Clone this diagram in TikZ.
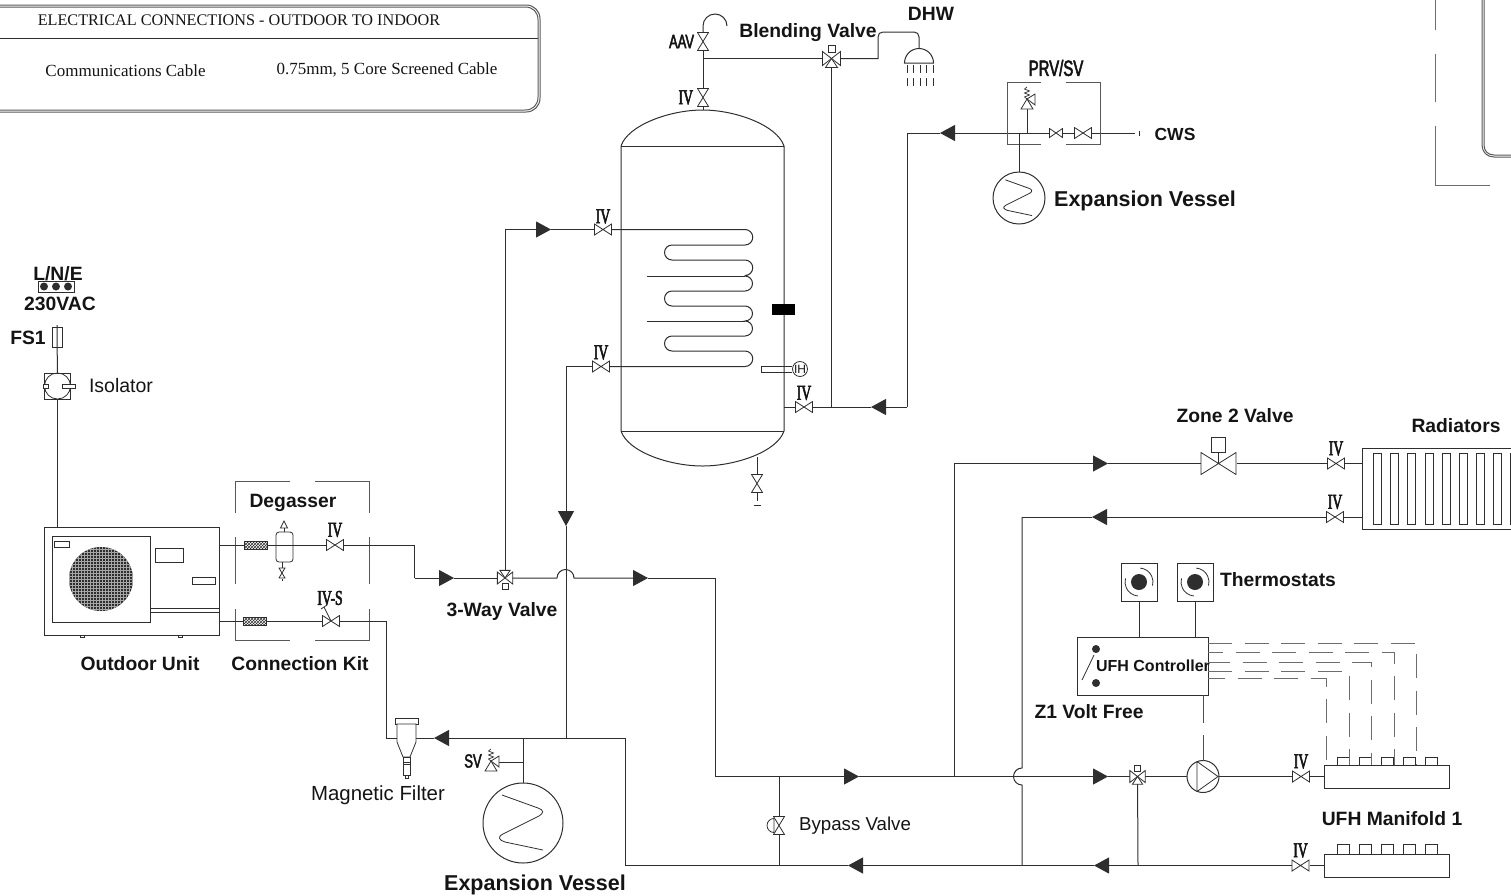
\documentclass[tikz,border=0pt]{standalone}
\usepackage{fontspec}
\setmainfont{Liberation Sans}
\newfontfamily\serifface{Liberation Serif}
\newfontfamily\ivface[FakeStretch=.65,FakeBold=2.5]{Liberation Serif}
\newfontfamily\tagface[FakeStretch=.68,FakeBold=2.5]{Liberation Sans}
\usetikzlibrary{arrows.meta,positioning,patterns}
\definecolor{linegrey}{HTML}{2E2E2E}
\definecolor{textgrey}{HTML}{141414}
\newcommand{\hbowtie}{\draw[valve line] ([shift={(.5pt,-.5pt)}]path picture bounding box.north west) -- ([shift={(-.5pt,.5pt)}]path picture bounding box.south east) -- ([shift={(-.5pt,-.5pt)}]path picture bounding box.north east) -- ([shift={(.5pt,.5pt)}]path picture bounding box.south west) -- cycle;}
\newcommand{\vbowtie}{\draw[valve line] ([shift={(.5pt,-.5pt)}]path picture bounding box.north west) -- ([shift={(-.5pt,.5pt)}]path picture bounding box.south east) -- ([shift={(.5pt,.5pt)}]path picture bounding box.south west) -- ([shift={(-.5pt,-.5pt)}]path picture bounding box.north east) -- cycle;}
\newcommand{\statdial}{\fill[linegrey] (path picture bounding box.center) circle (8pt); \draw[valve line] ([shift={(85:14pt)}]path picture bounding box.center) arc (85:-15:14pt); \draw[valve line] ([shift={(265:14pt)}]path picture bounding box.center) arc (265:165:14pt);}
\begin{document}
\begin{tikzpicture}[x=1pt, y=-1pt, line width=1pt, color=linegrey, text=textgrey,
  pipe/.style={draw=linegrey, line width=1pt},
  valve line/.style={draw=linegrey, line width=.8pt},
  flow/.style={-{Triangle[length=15pt,width=16pt]}},
  wire/.style={draw=linegrey!70, line width=1pt, dash pattern=on 24pt off 12.5pt},
  frame/.style={draw=linegrey!80, line width=1pt},
  box/.style={draw=linegrey, line width=1pt, inner sep=0pt, outer sep=0pt},
  iv valve/.style={inner sep=0pt, outer sep=0pt, minimum width=18pt, minimum height=12pt, path picture={\hbowtie}},
  small valve/.style={inner sep=0pt, outer sep=0pt, minimum width=14pt, minimum height=10pt, path picture={\hbowtie}},
  up valve/.style={inner sep=0pt, outer sep=0pt, minimum width=12pt, minimum height=19pt, path picture={\vbowtie}},
  zone valve/.style={inner sep=0pt, outer sep=0pt, minimum width=36pt, minimum height=23pt, path picture={\hbowtie}},
  vessel/.style={circle, draw=linegrey, line width=1pt, inner sep=0pt, outer sep=0pt, minimum size=2*#1},
  pump node/.style={circle, draw=linegrey, line width=1pt, inner sep=0pt, outer sep=0pt, minimum size=32pt,
    path picture={\draw[valve line, shift={(path picture bounding box.center)}] (-6,-15) -- (15,0) -- (-6,15) -- cycle;}},
  stat node/.style={box, minimum width=36pt, minimum height=38pt, path picture={\statdial}},
  strainer node/.style={box, line width=.8pt, minimum width=23pt, minimum height=8pt, pattern=crosshatch, pattern color=linegrey},
  label bold/.style={font=\fontsize{19.3}{22}\selectfont\bfseries, inner sep=0pt, text height=.72em, text depth=0pt, yshift=-4pt},
  label big/.style={font=\fontsize{21.5}{24}\selectfont\bfseries, inner sep=0pt, text height=.72em, text depth=0pt, yshift=-4pt},
  label small/.style={font=\fontsize{17.5}{20}\selectfont\bfseries, inner sep=0pt, text height=.72em, text depth=0pt, yshift=-3pt},
  label ctl/.style={font=\fontsize{16}{20}\selectfont\bfseries, inner sep=0pt, text height=.72em, text depth=0pt, yshift=-3pt},
  label plain/.style={font=\fontsize{19.5}{22}\selectfont, inner sep=0pt, text height=.72em, text depth=0pt, yshift=-4pt},
  table head/.style={font=\fontsize{16.2}{18}\selectfont\serifface, inner sep=0pt},
  table text/.style={font=\fontsize{17}{18}\selectfont\serifface, inner sep=0pt},
  iv tag/.style={font=\fontsize{21}{22}\selectfont\ivface, inner sep=0pt, outer sep=0pt},
  sans tag/.style={font=\fontsize{19}{20}\selectfont\tagface, inner sep=0pt, outer sep=0pt},
  pics/zigzag/.style={code={
    \draw[valve line] (-21,-28) -- (15,-15) .. controls (21,-13) and (21,-10) .. (16,-7) -- (-20,11) .. controls (-26,14) and (-24,17) .. (-18,19) -- (20,27);
  }},
  pics/threeway/.style={code={
    \draw[valve line, fill=white] (0,0) -- (-9,-7) -- (-9,7) -- cycle;
    \draw[valve line, fill=white] (0,0) -- (9,-7) -- (9,7) -- cycle;
    \draw[valve line, fill=white] (0,0) -- (-6,9) -- (6,9) -- cycle;
    \draw[valve line, fill=white] (-3.5,-13) rectangle (3.5,-6);
  }},
  pics/relief/.style={code={
    \draw[valve line, fill=white] (0,0) -- (-6,10) -- (6,10) -- cycle;
    \draw[valve line, fill=white] (0,0) -- (8,-5) -- (8,6) -- cycle;
    \draw[valve line, line width=.7pt] (0,0) -- (-2.5,-2) -- (2.5,-4) -- (-2.5,-6) -- (2.5,-8) -- (-2.5,-10) -- (0,-12);
  }}]
\useasboundingbox (0,0) rectangle (1511,895);
\clip (0,0) rectangle (1511,895);

\draw[frame] (-20,5) -- (526,5) .. controls (534,5) and (540,11) .. (540,19) -- (540,98) .. controls (540,106) and (534,112) .. (526,112) -- (-20,112);
\draw[frame] (-20,7) -- (525,7) .. controls (533,7) and (538,12) .. (538,20) -- (538,97) .. controls (538,105) and (533,110) .. (525,110) -- (-20,110);
\draw[valve line] (-20,38) -- (538,38);
\node[table head] (tablehead) at (239,20) {ELECTRICAL CONNECTIONS - OUTDOOR TO INDOOR};
\node[table text] (tablecable) at (125.5,71) {Communications Cable};
\node[table text] (tablespec) at (387,70) {0.75mm, 5 Core Screened Cable};

\draw[frame, draw=linegrey!70] (1435,-10) -- (1435,30);
\draw[frame, draw=linegrey!70] (1435,54) -- (1435,102);
\draw[frame, draw=linegrey!70] (1435,126) -- (1435,185) -- (1490,185);
\draw[frame] (1482,-10) -- (1482,145) .. controls (1482,152) and (1487,157) .. (1494,157) -- (1520,157);
\draw[frame] (1484,-10) -- (1484,145) .. controls (1484,151) and (1488,155) .. (1494,155) -- (1520,155);

\node[label bold] (mainsname) at (58,273) {L/N/E};
\node[box, minimum width=36pt, minimum height=11pt] (mainsbox) at (56.5,286.5) {};
\fill[linegrey] (44,286.5) circle (4pt) (56,286.5) circle (4pt) (68,286.5) circle (4pt);
\node[label bold] (mainsvolt) at (60,303) {230VAC};
\node[label bold] (fusename) at (28,337) {FS1};
\node[box, line width=.7pt, minimum width=10pt, minimum height=20pt] (fuse) at (57,337) {};
\coordinate (fusetop) at (57,325);
\node[box, line width=.8pt, minimum width=26pt, minimum height=26pt] (isolator) at (57.5,386) {};
\draw[valve line] (57.5,386) circle (13pt);
\draw[valve line, fill=white] (43,384) rectangle (48,388);
\draw[valve line, fill=white] (62,384) rectangle (75,388);
\node[label plain] (isolatorname) at (121,385) {Isolator};
\coordinate (mainsfeed) at (57.5,527);
\draw[pipe] (fusetop) -- (isolator);
\draw[pipe] (isolator) -- (mainsfeed);

\node[box, minimum width=175pt, minimum height=108pt] (outdoor) at (131.5,581) {};
\node[box, line width=.8pt, minimum width=98pt, minimum height=86pt] (fanpanel) at (101,579) {};
\node[box, line width=.7pt, minimum width=15pt, minimum height=6pt] (badge) at (61.5,544) {};
\node[box, line width=.8pt, minimum width=28pt, minimum height=14pt] (panela) at (169,555) {};
\node[box, line width=.8pt, minimum width=23pt, minimum height=7pt] (panelb) at (203.5,580.5) {};
\begin{scope}
\clip (101,579) circle (32pt);
\fill[linegrey] (60,540) rectangle (140,620);
\draw[step=3pt, gray!70, line width=.3pt] (60,540) grid (140,620);
\end{scope}
\draw[valve line] (150,608) -- (219,608);
\draw[valve line] (150,612) -- (219,612);
\draw[valve line] (80,635) rectangle (84,637) (178,635) rectangle (182,637);
\node[label bold] (outdoorname) at (140,663) {Outdoor Unit};

\draw[frame] (290,481) -- (235.5,481) -- (235.5,512.5);
\draw[frame] (235.5,537) -- (235.5,584);
\draw[frame] (235.5,609) -- (235.5,640) -- (290,640);
\draw[frame] (315,640) -- (369.5,640) -- (369.5,609);
\draw[frame] (369.5,584) -- (369.5,537);
\draw[frame] (369.5,512.5) -- (369.5,481) -- (315,481);
\node[label bold] (degassername) at (293,500) {Degasser};
\node[label bold] (kitname) at (300,663) {Connection Kit};

\coordinate (outflow) at (219,545);
\coordinate (outreturn) at (219,621);
\node[strainer node] (strainerflow) at (256,545) {};
\node[strainer node] (strainerreturn) at (254.5,621) {};
\node[box, line width=.8pt, rounded corners=3pt, minimum width=17pt, minimum height=30pt] (degasser) at (284.5,547) {};
\node[iv valve] (ivflow) at (335,545) {};
\node[iv tag, above=2pt of ivflow] (ivflowtag) {IV};
\node[iv valve] (ivreturn) at (331,621) {};
\node[iv tag] (ivreturntag) at (330,598) {IV-S};
\coordinate (stemtop) at (324,607);
\draw[valve line] (ivreturn.center) -- (stemtop);
\draw[valve line] (321,609) -- (327,605);
\draw[pipe] (outflow) -- (strainerflow);
\draw[pipe] (strainerflow) -- (ivflow);
\draw[pipe] (outreturn) -- (strainerreturn);
\draw[pipe] (strainerreturn) -- (ivreturn);
\draw[valve line, fill=white] (284,521) -- (280.5,528) -- (287.5,528) -- cycle;
\draw[valve line] (284,528) -- (284,532);
\node[inner sep=0pt, outer sep=0pt, minimum width=7pt, minimum height=11pt, path picture={\vbowtie}] (degasdrain) at (282,573) {};
\draw[valve line] (282,562) -- (degasdrain);
\draw[valve line] (degasdrain) -- (282,581);

\coordinate (supplybend) at (414.5,578);
\coordinate (tipsupply) at (454,578);
\coordinate (threewayvalve) at (505,578);
\coordinate (coilbranch) at (505,229.5);
\coordinate (tipcoil) at (551,229.5);
\node[iv valve] (ivcoiltop) at (603,229.5) {};
\node[iv tag, above=0pt of ivcoiltop] (ivcoiltoptag) {IV};
\node[iv valve] (ivcoilbot) at (601,366.5) {};
\node[iv tag, above=1pt of ivcoilbot] (ivcoilbottag) {IV};
\coordinate (returnbranch) at (566,366.5);
\coordinate (tipreturn) at (566,526);
\coordinate (returntee) at (566,738);
\coordinate (humpstart) at (557,578);
\coordinate (tipheat) at (648,578);
\coordinate (heatbend) at (715,578);
\coordinate (heatcorner) at (715,776.5);
\coordinate (bypasstop) at (779,776.5);
\coordinate (tipheatb) at (859,776.5);
\coordinate (zonebranch) at (954,776.5);
\coordinate (humpend) at (1014,776.5);
\coordinate (tipufh) at (1108,776.5);
\coordinate (mixvalve) at (1137.5,776.5);
\coordinate (zonecorner) at (954,463.5);
\coordinate (tipzone) at (1108,463.5);
\draw[pipe] (ivflow) -| (supplybend);
\draw[pipe, flow] (supplybend) -- (tipsupply);
\draw[pipe] (tipsupply) -- (threewayvalve);
\draw[pipe] (threewayvalve) -- (coilbranch);
\draw[pipe, flow] (coilbranch) -- (tipcoil);
\draw[pipe] (tipcoil) -- (ivcoiltop);
\draw[pipe, flow] (threewayvalve) -- (humpstart) arc (180:0:8.5pt) -- (tipheat);
\draw[pipe] (tipheat) -- (heatbend);
\draw[pipe] (heatbend) -- (heatcorner);
\draw[pipe] (heatcorner) -- (bypasstop);
\draw[pipe, flow] (bypasstop) -- (tipheatb);
\draw[pipe] (tipheatb) -- (humpend);
\draw[pipe, flow] (humpend) -- (tipufh);
\draw[pipe] (tipufh) -- (mixvalve);
\draw[pipe] (zonebranch) -- (zonecorner);
\draw[pipe, flow] (zonecorner) -- (tipzone);
\draw[pipe] (ivcoilbot) -- (returnbranch);
\draw[pipe, flow] (returnbranch) -- (tipreturn);
\draw[pipe] (tipreturn) -- (returntee);
\pic at (threewayvalve) [rotate=180, scale=.85] {threeway};
\node[label bold] (threewayname) at (502,609) {3-Way Valve};

\coordinate (filterin) at (386,738);
\coordinate (tipfilter) at (434,738);
\coordinate (vesseltee) at (523,738);
\coordinate (returncorner) at (625,738);
\coordinate (returnlow) at (625,865.5);
\coordinate (tipreturnb) at (848,865.5);
\coordinate (bypasslow) at (779,865.5);
\coordinate (zonereturnlow) at (1022,865.5);
\coordinate (tipreturnc) at (1094,865.5);
\coordinate (mixlow) at (1138,865.5);
\coordinate (svin) at (499,762);
\coordinate (svtee) at (523,762);
\draw[pipe] (ivreturn) -| (filterin);
\draw[pipe] (filterin) -- (tipfilter);
\draw[pipe, flow] (vesseltee) -- (tipfilter);
\draw[pipe] (returntee) -- (vesseltee);
\draw[pipe] (returntee) -- (returncorner) -- (returnlow);
\draw[pipe] (returnlow) -- (bypasslow);
\draw[pipe] (bypasslow) -- (tipreturnb);
\draw[pipe, flow] (zonereturnlow) -- (tipreturnb);
\draw[pipe, flow] (mixlow) -- (tipreturnc);
\draw[pipe] (tipreturnc) -- (zonereturnlow);
\draw[pipe] (mixvalve) -- (mixlow);
\draw[valve line, fill=white] (395,718) rectangle (418,724);
\draw[valve line, fill=white] (397,724) -- (416,724) -- (416,742) -- (410,757) -- (403,757) -- (397,742) -- cycle;
\draw[valve line, fill=white] (403,757) rectangle (410,775);
\draw[valve line] (403,762) -- (410,762) (403,764) -- (410,764) (405,775) -- (405,778) -- (408,778) -- (408,775);
\node[label plain, font=\fontsize{20.4}{24}\selectfont] (filtername) at (378,793) {Magnetic Filter};

\node[vessel=40] (vesselmain) at (523,823) {};
\pic at (vesselmain) {zigzag};
\draw[pipe] (vesseltee) -- (vesselmain);
\draw[pipe] (svin) -- (svtee);
\pic at (491,761) {relief};
\node[sans tag] (svtag) at (473,761) {SV};
\node[label big] (vesselmainname) at (535,883) {Expansion Vessel};

\node[up valve] (bypass) at (779,825.5) {};
\draw[pipe] (bypasstop) -- (bypass);
\draw[pipe] (bypass) -- (bypasslow);
\draw[valve line] (774,818.5) arc (90:270:7pt) -- cycle;
\node[label plain, font=\fontsize{18.7}{22}\selectfont] (bypassname) at (855,823) {Bypass Valve};

\draw[pipe] (621,431) -- (621,146) .. controls (628,125) and (670,110) .. (702.5,110) .. controls (735,110) and (777,125) .. (784,146) -- (784,431) .. controls (777,452) and (735,466) .. (702.5,466) .. controls (670,466) and (628,452) .. (621,431) -- cycle;
\draw[pipe] (621,146) -- (784,146);
\draw[pipe] (621,431.5) -- (784,431.5);

\coordinate (coilin) at (745,229.5);
\coordinate (coilout) at (745,366.5);
\draw[pipe] (ivcoiltop) -- (coilin) arc (90:-90:7.75pt) -- (672,245) arc (90:270:7.5pt) -- (745,260) arc (90:-90:7.75pt) -- (745,276) arc (90:-90:7.5pt) -- (672,291) arc (90:270:7.5pt) -- (745,306) arc (90:-90:7.5pt) -- (745,321) arc (90:-90:7.5pt) -- (672,336) arc (90:270:7.5pt) -- (745,351) arc (90:-90:7.75pt) -- (coilout) -- (ivcoilbot);
\draw[pipe] (647,276) -- (745,276);
\draw[pipe] (647,321) -- (745,321);

\node[fill=black, inner sep=0pt, minimum width=23pt, minimum height=11pt] (tanksensor) at (783.5,309.5) {};
\node[circle, draw=linegrey, line width=.8pt, inner sep=0pt, minimum size=15pt, font=\fontsize{12}{12}\selectfont] (immersion) at (800,369) {IH};
\draw[valve line] ([yshift=3pt]immersion.west) -- (761.5,366) -- (761.5,372) -- ([yshift=-3pt]immersion.west);

\coordinate (draintap) at (757,457);
\node[up valve] (drainvalve) at (757,483.5) {};
\coordinate (drainend) at (757,501);
\draw[pipe] (draintap) -- (drainvalve);
\draw[pipe] (drainvalve) -- (drainend);
\draw[line width=1.5pt, draw=linegrey] (753.5,505.5) -- (760.5,505.5);

\coordinate (tanktap) at (784,407);
\node[iv valve] (ivcoldin) at (804,407) {};
\node[iv tag, above=1pt of ivcoldin] (ivcoldintag) {IV};
\coordinate (coldtee) at (831.5,407);
\coordinate (tipcoldb) at (871,407);
\coordinate (coldcorner) at (907,407);
\coordinate (coldtop) at (907,133);
\coordinate (tipcold) at (940,133);
\coordinate (expteesmall) at (1019,133);
\coordinate (prvtee) at (1027,133);
\coordinate (prvin) at (1027,108);
\node[small valve] (prvvalve) at (1056,133) {};
\node[iv valve] (prvstop) at (1083,133) {};
\coordinate (cwsend) at (1135,133);
\draw[pipe] (tanktap) -- (ivcoldin);
\draw[pipe] (ivcoldin) -- (coldtee);
\draw[pipe] (coldtee) -- (tipcoldb);
\draw[pipe, flow] (coldcorner) -- (tipcoldb);
\draw[pipe] (coldcorner) -- (coldtop) -- (tipcold);
\draw[pipe, flow] (expteesmall) -- (tipcold);
\draw[pipe] (expteesmall) -- (prvtee);
\draw[pipe] (prvtee) -- (prvvalve);
\draw[pipe] (prvvalve) -- (prvstop);
\draw[pipe] (prvstop) -- (cwsend);
\draw[line width=1.5pt, draw=linegrey] (1139.5,130.5) -- (1139.5,135.5);
\draw[pipe] (prvtee) -- (prvin);
\pic at (1027,99) {relief};
\draw[frame] (1041,82) -- (1007,82) -- (1007,144) -- (1041,144);
\draw[frame] (1066,144) -- (1100,144) -- (1100,82) -- (1066,82);
\node[sans tag, font=\fontsize{22}{22}\selectfont\tagface] (prvtag) at (1056,68) {PRV/SV};
\node[label small] (cwsname) at (1175,134) {CWS};
\node[vessel=26] (vesselcws) at (1019,198) {};
\pic at (vesselcws) [scale=.65] {zigzag};
\draw[pipe] (expteesmall) -- (vesselcws);
\node[label big] (vesselcwsname) at (1145,199) {Expansion Vessel};

\coordinate (blendvalve) at (831.5,58.5);
\coordinate (blendtee) at (703,58.5);
\coordinate (showerin) at (919,48);
\node[up valve] (ivtop) at (703,97.5) {};
\node[iv tag, left=4pt of ivtop] (ivtoptag) {IV};
\node[up valve] (aav) at (703,41.5) {};
\node[sans tag, left=3pt of aav] (aavtag) {AAV};
\coordinate (tanktop) at (703,110);
\draw[pipe] (tanktop) -- (ivtop);
\draw[pipe] (ivtop) -- (blendtee);
\draw[pipe] (blendtee) -- (aav);
\draw[pipe] (blendtee) -- (blendvalve);
\draw[pipe] (aav.north) -- (703,26) arc (180:0:12pt);
\draw[pipe] (blendvalve) -- (878,58.5) -- (878,37) .. controls (878,34) and (880,32) .. (883,32) -- (914,32) .. controls (917,32) and (919,34) .. (919,37) -- (showerin);
\draw[pipe] (coldtee) -- (blendvalve);
\pic at (blendvalve) {threeway};
\node[label bold] (blendname) at (808,30) {Blending Valve};
\node[label bold] (dhwname) at (931,13) {DHW};
\draw[pipe] (904.5,63) arc (180:0:14.5pt) -- cycle;
\draw[valve line, line width=.7pt] (907,65) -- (907,73) (913.5,65) -- (913.5,73) (920,65) -- (920,73) (926.5,65) -- (926.5,73) (933,65) -- (933,73);
\draw[valve line, line width=.7pt] (907,78) -- (907,86) (913.5,78) -- (913.5,86) (920,78) -- (920,86) (926.5,78) -- (926.5,86) (933,78) -- (933,86);

\node[zone valve] (zonetwo) at (1218.5,463.5) {};
\node[box, line width=.8pt, minimum width=14pt, minimum height=15pt] (zoneact) at (1218.5,444.5) {};
\draw[valve line] (zoneact) -- (zonetwo.center);
\node[label bold] (zonename) at (1235,415) {Zone 2 Valve};
\node[iv valve] (ivradin) at (1336,463.5) {};
\node[iv tag, above=2pt of ivradin] (ivradintag) {IV};
\node[iv valve] (ivradout) at (1335,517) {};
\node[iv tag, above=2pt of ivradout] (ivradouttag) {IV};
\node[box, minimum width=200pt, minimum height=81pt] (radiator) at (1462,488.5) {};
\draw[valve line] (1373,453) rectangle (1381,524) (1390.5,453) rectangle (1398.5,524) (1407.5,453) rectangle (1415.5,524) (1425,453) rectangle (1433,524) (1442,453) rectangle (1450,524) (1459,453) rectangle (1467,524) (1476,453) rectangle (1484,524) (1493,453) rectangle (1501,524) (1510,453) rectangle (1518,524);
\node[label bold] (radiatorname) at (1456,425) {Radiators};
\coordinate (tipzonereturn) at (1092,517);
\coordinate (zonereturn) at (1022,517);
\draw[pipe] (tipzone) -- (zonetwo);
\draw[pipe] (zonetwo) -- (ivradin);
\draw[pipe] (ivradin) -- (ivradin -| radiator.west);
\draw[pipe] (ivradout) -- (ivradout -| radiator.west);
\draw[pipe, flow] (ivradout) -- (tipzonereturn);
\draw[pipe] (tipzonereturn) -- (zonereturn);
\draw[pipe] (zonereturn) -- (1022,768) arc (90:270:8.5pt) -- (zonereturnlow);

\node[stat node] (statone) at (1139,582) {};
\node[stat node] (stattwo) at (1195,582) {};
\node[label bold] (statname) at (1278,579) {Thermostats};
\node[box, minimum width=131pt, minimum height=58pt] (ufhctl) at (1142.5,666) {};
\draw[pipe] (statone) -- (statone |- ufhctl.north);
\draw[pipe] (stattwo) -- (stattwo |- ufhctl.north);
\fill[linegrey] (1096,649) circle (4pt) (1096,683) circle (4pt);
\draw[valve line] (1094,655) -- (1082,680);
\node[label ctl] (ufhctlname) at (1153,665) {UFH Controller};
\node[label bold] (zonefree) at (1089,711) {Z1 Volt Free};

\node[pump node] (pump) at (1203,776.5) {};
\node[iv valve] (ivufhin) at (1301,776.5) {};
\node[iv tag, above=2pt of ivufhin] (ivufhintag) {IV};
\node[box, minimum width=125pt, minimum height=23pt] (manifoldin) at (1386.5,776.5) {};
\draw[valve line] (1337,765) -- (1337,757) -- (1349,757) -- (1349,765) (1359,765) -- (1359,757) -- (1371,757) -- (1371,765) (1381,765) -- (1381,757) -- (1393,757) -- (1393,765) (1403,765) -- (1403,757) -- (1415,757) -- (1415,765) (1425,765) -- (1425,757) -- (1437,757) -- (1437,765);
\draw[pipe] (mixvalve) -- (pump);
\draw[pipe] (pump) -- (ivufhin);
\draw[pipe] (ivufhin) -- (manifoldin);
\pic at (mixvalve) [scale=.85] {threeway};
\coordinate (ctlpump) at (1203,695);
\coordinate (ctlgapa) at (1203,723);
\coordinate (ctlgapb) at (1203,735);
\draw[pipe, draw=linegrey!85] (ctlpump) -- (ctlgapa);
\draw[pipe, draw=linegrey!85] (ctlgapb) -- (pump);

\node[iv valve] (ivufhout) at (1300.5,865.5) {};
\node[iv tag, above=2pt of ivufhout] (ivufhouttag) {IV};
\node[box, minimum width=125pt, minimum height=23pt] (manifoldout) at (1386.5,865.5) {};
\draw[valve line] (1337,854) -- (1337,844.5) -- (1349,844.5) -- (1349,854) (1359,854) -- (1359,844.5) -- (1371,844.5) -- (1371,854) (1381,854) -- (1381,844.5) -- (1393,844.5) -- (1393,854) (1403,854) -- (1403,844.5) -- (1415,844.5) -- (1415,854) (1425,854) -- (1425,844.5) -- (1437,844.5) -- (1437,854);
\draw[pipe] (mixlow) -- (ivufhout);
\draw[pipe] (ivufhout) -- (manifoldout);
\node[label bold] (manifoldname) at (1392,818) {UFH Manifold 1};

\coordinate (wirea) at (1416,643);
\coordinate (wireb) at (1394,652);
\coordinate (wirec) at (1371,662);
\coordinate (wired) at (1349,671);
\coordinate (wiree) at (1326,678);
\draw[wire] (ufhctl.east |- wirea) -| (manifoldin.north -| wirea);
\draw[wire, dash phase=9pt] (ufhctl.east |- wireb) -| (manifoldin.north -| wireb);
\draw[wire, dash phase=2pt] (ufhctl.east |- wirec) -| (manifoldin.north -| wirec);
\draw[wire] (ufhctl.east |- wired) -| (manifoldin.north -| wired);
\draw[wire, dash phase=7pt] (ufhctl.east |- wiree) -| (manifoldin.north -| wiree);
\end{tikzpicture}
\end{document}
